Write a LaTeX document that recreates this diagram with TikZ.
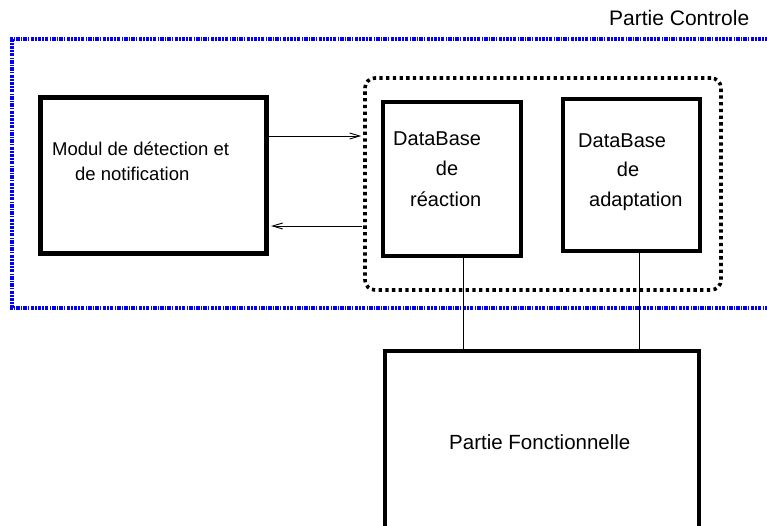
\documentclass[tikz,border=0pt]{standalone}
\usepackage{fontspec}
\setmainfont{Liberation Sans}
\usetikzlibrary{arrows.meta}
\begin{document}
\begin{tikzpicture}[x=1pt,y=-1pt,
  box/.style={draw, line width=4.8pt, inner sep=0pt},
  grpbox/.style={draw, line width=3.6pt, dash pattern=on 3.3pt off 3.4pt, rounded corners=10pt, inner sep=0pt},
  zone/.style={draw=blue, line width=3.2pt, dash pattern=on 3.5pt off 1.2pt on 1.3pt off 1.2pt},
  txt/.style={inner sep=0pt, font=\fontsize{20}{22}\selectfont},
  smalltxt/.style={inner sep=0pt, font=\fontsize{18.5}{20}\selectfont},
  arr/.style={line width=0.9pt, -{Straight Barb[length=10pt,width=6pt]}},
  link/.style={line width=0.9pt}]
\useasboundingbox (0,0) rectangle (767,526);
\clip (0,0) rectangle (767,526);
% blue zone
\draw[zone] (790,39) -- (12,39) -- (12,308) -- (790,308);
\node[txt, font=\fontsize{21}{23}\selectfont, anchor=base west] (pc) at (609,26) {Partie Controle};
% boxes
\node[box, minimum width=226.5pt, minimum height=156.5pt] (mod) at (153.5,175.5) {};
\node[grpbox, minimum width=356pt, minimum height=212pt] (grp) at (543,184) {};
\node[box, minimum width=138pt, minimum height=154pt] (rea) at (452,179) {};
\node[box, minimum width=137pt, minimum height=152pt] (ada) at (631.5,175) {};
\node[box, minimum width=314pt, minimum height=209pt] (pf) at (542,455.5) {};
% texts
\node[smalltxt, anchor=base west] (m1) at (52,156) {Modul de détection et};
\node[smalltxt, anchor=base west] (m2) at (75,181) {de notification};
\node[txt, anchor=base west] (r1) at (393,146) {DataBase};
\node[txt, anchor=base] (r2) at (447,176) {de};
\node[txt, anchor=base west] (r3) at (410,206.5) {réaction};
\node[txt, anchor=base west] (a1) at (578,148) {DataBase};
\node[txt, anchor=base] (a2) at (628,176.5) {de};
\node[txt, anchor=base west] (a3) at (589,206.5) {adaptation};
\node[txt, font=\fontsize{20.5}{22}\selectfont, anchor=base west] (pft) at (449,449) {Partie Fonctionnelle};
% arrows
\coordinate (ya) at (0,136);
\coordinate (yb) at (0,226);
\draw[arr] (mod.east |- ya) -- ([xshift=-2pt]grp.west |- ya);
\draw[arr] ([xshift=-1pt]grp.west |- yb) -- ([xshift=2pt]mod.east |- yb);
% links
\coordinate (lx1) at (463,0);
\coordinate (lx2) at (639,0);
\draw[link] (rea.south -| lx1) -- (pf.north -| lx1);
\draw[link] (ada.south -| lx2) -- (pf.north -| lx2);
\end{tikzpicture}
\end{document}
